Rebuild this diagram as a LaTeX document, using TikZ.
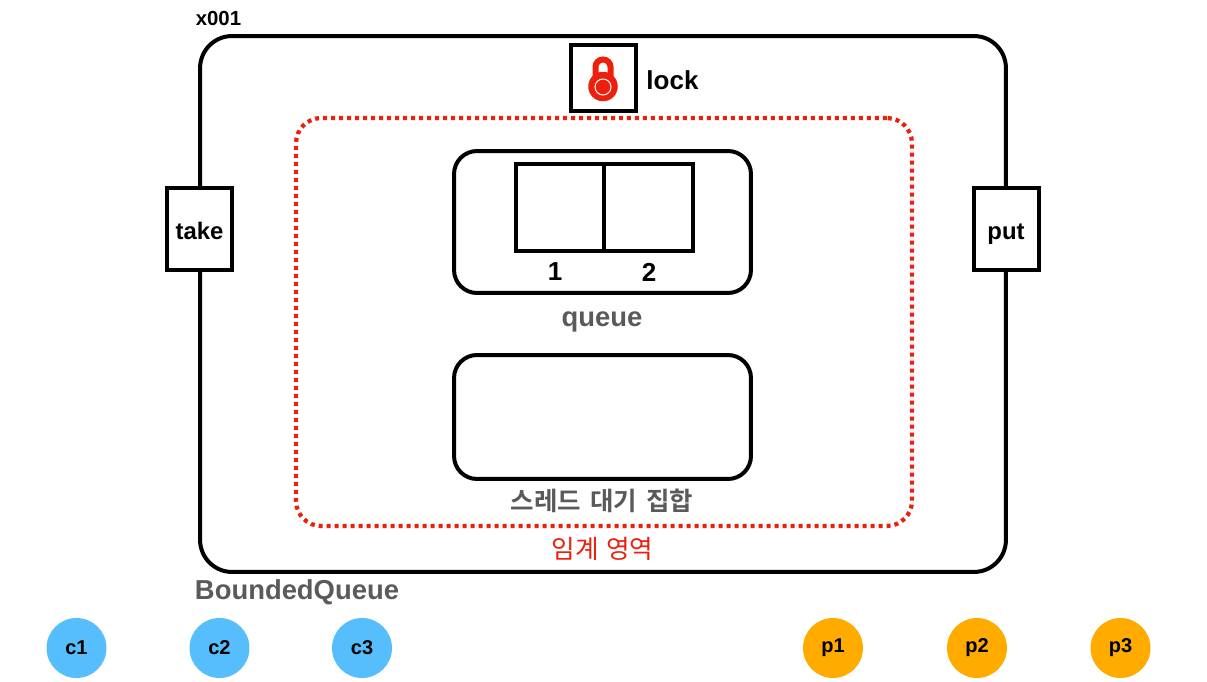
\documentclass[tikz,border=0pt]{standalone}
\usepackage{fontspec}
\setmainfont{Liberation Sans}
\newfontfamily\krfont[WordSpace=1.3]{Noto Sans CJK KR}
\newfontfamily\krbold[WordSpace=1.6]{Noto Sans CJK KR Bold}
\definecolor{lockRed}{RGB}{236,32,12}
\definecolor{labelGray}{RGB}{90,90,90}
\definecolor{consumerBlue}{RGB}{86,190,253}
\definecolor{producerOrange}{RGB}{255,171,0}
\usetikzlibrary{positioning}
\tikzset{
  outline/.style={draw=black,line width=0.08cm,fill=white,inner sep=0pt},
  panel/.style={outline,rounded corners=0.46cm,minimum width=5.94cm},
  cellbox/.style={outline,minimum width=1.77cm,minimum height=1.75cm},
  methodbox/.style={outline,minimum width=1.3cm,minimum height=1.64cm},
  methodlabel/.style={font=\bfseries\fontsize{13.6}{16}\selectfont},
  blacklabel/.style={font=\bfseries\fontsize{14.8}{16}\selectfont},
  graylabel/.style={text=labelGray,font=\bfseries\fontsize{15.6}{16}\selectfont},
  thread/.style={circle,minimum size=1.2cm,inner sep=0pt,font=\bfseries\fontsize{11.4}{13}\selectfont},
  consumer/.style={thread,fill=consumerBlue},
  producer/.style={thread,fill=producerOrange}
}
\begin{document}
\begin{tikzpicture}[x=0.02cm,y=-0.02cm]
  \useasboundingbox (0,0) rectangle (1207,682);
  % object
  \node[outline,rounded corners=0.64cm,minimum width=16.12cm,minimum height=10.72cm] (object) at (603,304) {};
  \node[font=\bfseries\fontsize{11.6}{13}\selectfont] (address) at (218.5,18) {x001};
  \node[graylabel] (classname) at (297,592) {BoundedQueue};
  % critical section
  \node[draw=lockRed,line width=0.085cm,dash pattern=on 0.08cm off 0.08cm,rounded corners=0.5cm,inner sep=0pt,minimum width=12.32cm,minimum height=8.16cm] (critical) at (604,322) {};
  \node[text=lockRed,font=\krfont\fontsize{14.6}{18}\selectfont] (criticallabel) at (602.5,548.5) {임계 영역};
  % lock
  \node[outline,minimum width=1.3cm,minimum height=1.32cm] (lockbox) at (603.5,78) {};
  \draw[lockRed,line width=0.12cm] (595.5,80) -- (595.5,67) arc[start angle=180,end angle=0,radius=0.15cm] -- (610.5,80);
  \fill[lockRed] (603,86.5) circle[radius=0.295cm];
  \draw[white,line width=0.02cm] (603,87) circle[radius=0.16cm];
  \node[blacklabel] (locklabel) at (672.5,80) {lock};
  % queue
  \node[panel,minimum height=2.84cm] (queue) at (602.5,222) {};
  \node[cellbox] (cell1) at (560,207.5) {};
  \node[cellbox] (cell2) at (648.5,207.5) {};
  \node[blacklabel] (index1) at (555,272) {1};
  \node[blacklabel] (index2) at (649,272) {2};
  \node[graylabel] (queuelabel) at (602,321.5) {queue};
  % wait set
  \node[panel,minimum height=2.48cm] (waitset) at (602.5,417) {};
  \node[text=labelGray,font=\krbold\fontsize{14.5}{18}\selectfont] (waitlabel) at (602,501) {스레드 대기 집합};
  % methods
  \node[methodbox,label={[methodlabel,yshift=-0.04cm]center:take}] (take) at (199.5,229) {};
  \node[methodbox,label={[methodlabel,yshift=-0.1cm]center:put}] (put) at (1006,229) {};
  % threads
  \foreach \name/\xpos in {c1/76.5,c2/219.5,c3/362}
    \node[consumer] (\name) at (\xpos,648) {\name};
  \foreach \name/\xpos in {p1/833,p2/977,p3/1120.5}
    \node[producer] (\name) at (\xpos,648) {\name};
\end{tikzpicture}
\end{document}
